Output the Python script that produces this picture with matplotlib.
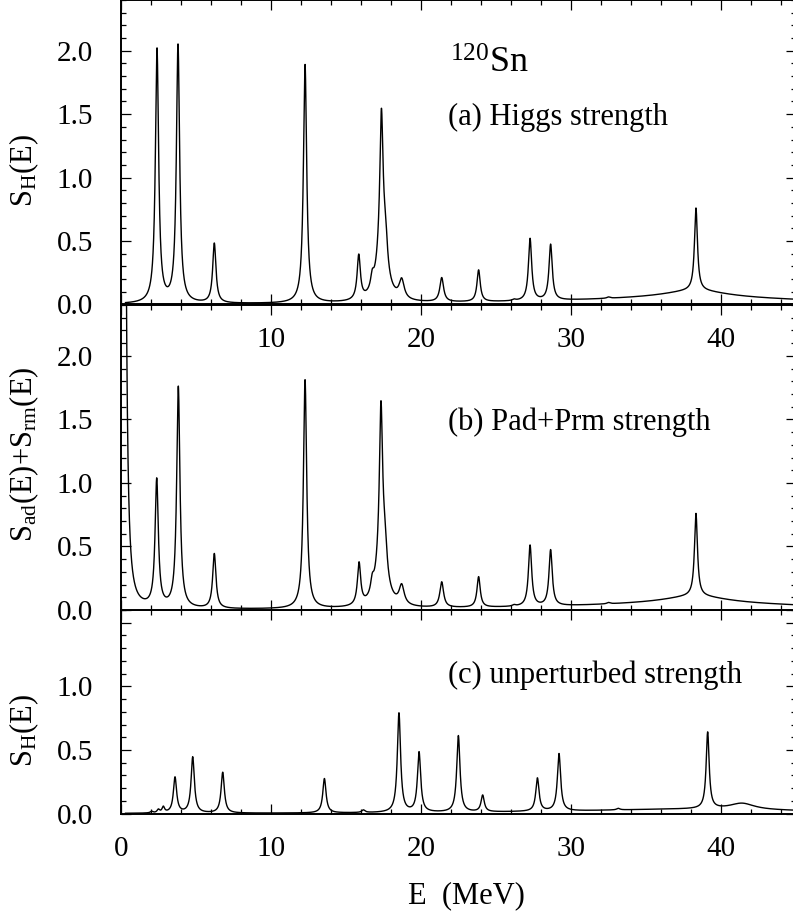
import numpy as np
import matplotlib
matplotlib.use("Agg")
import matplotlib.pyplot as plt
from matplotlib.ticker import MultipleLocator

plt.rcParams['font.family'] = ['Liberation Serif', 'DejaVu Serif']
plt.rcParams['mathtext.fontset'] = 'custom'
plt.rcParams['mathtext.rm'] = 'Liberation Serif'
plt.rcParams['mathtext.it'] = 'Liberation Serif:italic'

# peaks: centre (MeV), height, half width (MeV)
higgs_E = [2.40, 3.80, 6.22, 12.27, 15.85, 16.75, 17.36, 17.40, 17.65, 18.71,
           21.38, 23.84, 26.2, 27.27, 28.64, 32.5, 38.33, 38.3, 38.0]
higgs_h = [2.00, 2.03, 0.47, 1.88, 0.35, 0.10, 0.97, 0.53, 0.18, 0.15,
           0.19, 0.25, 0.01, 0.49, 0.44, 0.01, 0.65, 0.06, 0.05]
higgs_w = [0.13, 0.13, 0.13, 0.13, 0.13, 0.13, 0.12, 0.35, 0.13, 0.2,
           0.15, 0.13, 0.13, 0.13, 0.13, 0.13, 0.12, 2.5, 10.0]

pad_E = [0.20, 2.38, 3.82, 6.22, 12.27, 15.87, 16.75, 17.33, 17.37, 17.62, 18.71,
         21.38, 23.84, 26.2, 27.27, 28.64, 32.5, 38.33, 38.3, 38.0]
pad_h = [7.0, 1.00, 1.74, 0.43, 1.80, 0.33, 0.10, 1.10, 0.50, 0.18, 0.15,
         0.20, 0.24, 0.01, 0.48, 0.44, 0.01, 0.65, 0.06, 0.05]
pad_w = [0.12, 0.13, 0.13, 0.13, 0.13, 0.13, 0.13, 0.12, 0.35, 0.13, 0.2,
         0.15, 0.13, 0.13, 0.13, 0.13, 0.13, 0.12, 2.5, 10.0]

unp_E = [2.04, 2.49, 2.82, 3.60, 4.78, 6.78, 13.56, 16.16, 18.53, 19.87,
         22.49, 24.11, 27.76, 29.20, 33.15, 39.11, 41.4, 38.0]
unp_h = [0.012, 0.025, 0.045, 0.28, 0.44, 0.32, 0.27, 0.02, 0.78, 0.47,
         0.60, 0.13, 0.26, 0.45, 0.012, 0.60, 0.05, 0.035]
unp_w = [0.1, 0.1, 0.1, 0.13, 0.13, 0.13, 0.13, 0.13, 0.13, 0.13,
         0.13, 0.13, 0.13, 0.13, 0.13, 0.12, 1.0, 10.0]


def strength(E, centres, heights, widths):
    s = np.zeros_like(E)
    for c, h, g in zip(centres, heights, widths):
        s += h * g**2 / ((E - c)**2 + g**2)
    return s


E = np.arange(0.3, 45.0, 0.005)

fig = plt.figure(figsize=(7.93, 9.19), dpi=100)
left, width = 0.1526, 0.8512
ax1 = fig.add_axes([left, 0.6687, width, 0.3313])
ax2 = fig.add_axes([left, 0.3362, width, 0.3319])
ax3 = fig.add_axes([left, 0.1146, width, 0.2217])
# let the top panel's x tick labels show over the middle panel
ax1.set_zorder(3)
ax2.set_zorder(2)
ax1.patch.set_visible(False)

ax1.plot(E, strength(E, higgs_E, higgs_h, higgs_w), color='black', lw=1.0)
ax2.plot(E, strength(E, pad_E, pad_h, pad_w), color='black', lw=1.0)
ax3.plot(E, strength(E, unp_E, unp_h, unp_w), color='black', lw=1.0)

for ax in (ax1, ax2, ax3):
    ax.set_xlim(0, 45)
    ax.xaxis.set_major_locator(MultipleLocator(10))
    ax.xaxis.set_minor_locator(MultipleLocator(2))
    ax.yaxis.set_minor_locator(MultipleLocator(0.1))
    ax.tick_params(which='both', direction='in', top=True, right=True,
                   labelsize=21, width=0.9)
    ax.tick_params(which='major', length=7)
    ax.tick_params(which='minor', length=3.5)
    ax.tick_params(axis='x', pad=16)
    ax.tick_params(axis='y', pad=20)
    for sp in ax.spines.values():
        sp.set_linewidth(1.4)

ax1.set_ylim(0, 2.4)
ax2.set_ylim(0, 2.4)
ax3.set_ylim(0, 1.6)
for ax in (ax1, ax2):
    ax.set_yticks([0, 0.5, 1.0, 1.5, 2.0])
    ax.set_yticklabels(['0.0', '0.5', '1.0', '1.5', '2.0'])
ax3.set_yticks([0, 0.5, 1.0, 1.5])
ax3.set_yticklabels(['0.0', '0.5', '1.0', ''])

ax1.set_xticks([0, 10, 20, 30, 40])
ax1.set_xticklabels(['', '10', '20', '30', '40'])
ax2.set_xticklabels([])
ax3.set_xticks([0, 10, 20, 30, 40])
ax3.set_xticklabels(['0', '10', '20', '30', '40'])

ax1.set_ylabel(r'S$_{\mathrm{H}}$(E)', fontsize=22)
ax1.yaxis.set_label_coords(-0.118, 0.44)
ax2.set_ylabel(r'S$_{\mathrm{ad}}$(E)+S$_{\mathrm{rm}}$(E)', fontsize=22)
ax2.yaxis.set_label_coords(-0.118, 0.51)
ax3.set_ylabel(r'S$_{\mathrm{H}}$(E)', fontsize=22)
ax3.yaxis.set_label_coords(-0.118, 0.41)
ax3.set_xlabel('E  (MeV)', fontsize=22)
ax3.xaxis.set_label_coords(0.511, -0.33)

ax1.text(21.93, 1.83, r'$^{120}$Sn', fontsize=26, ha='left', va='baseline')
ax1.text(21.8, 1.416, '(a) Higgs strength', fontsize=22, ha='left', va='baseline')
ax2.text(21.8, 1.415, '(b) Pad+Prm strength', fontsize=22, ha='left', va='baseline')
ax3.text(21.8, 1.027, '(c) unperturbed strength', fontsize=22, ha='left', va='baseline')

fig.savefig('out.png', dpi=100)
